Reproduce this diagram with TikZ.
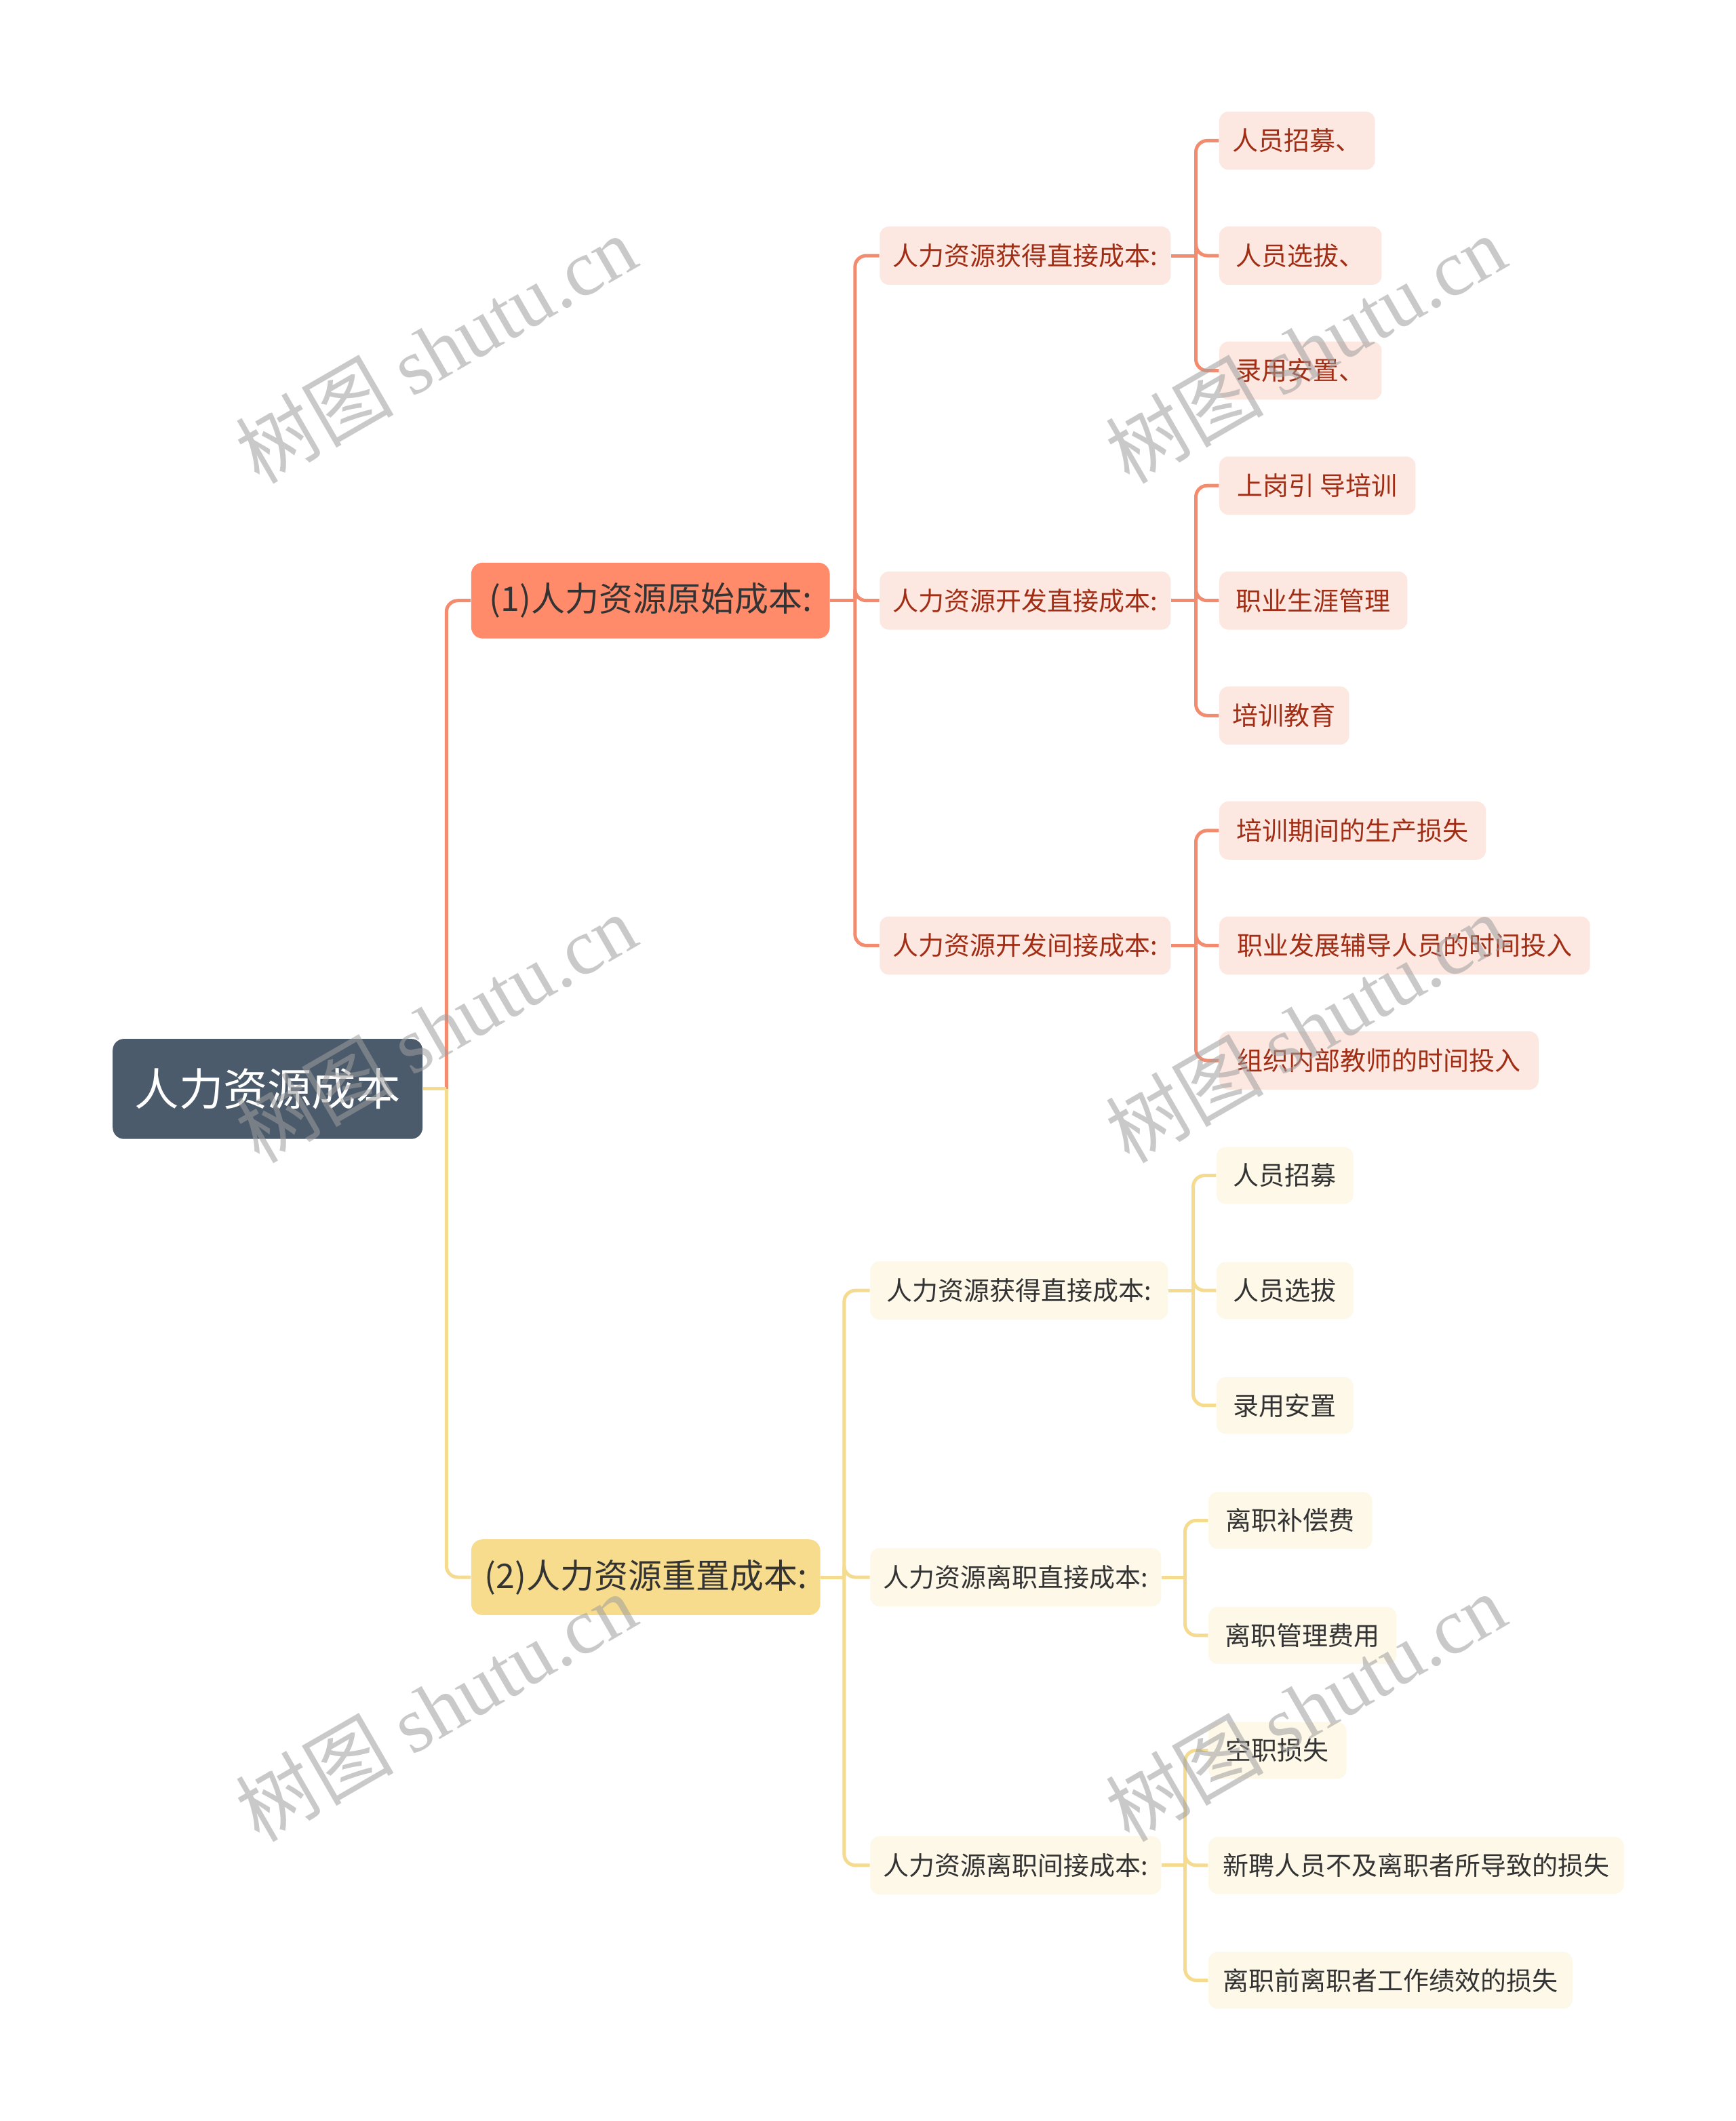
\documentclass[tikz,border=0pt]{standalone}
\usepackage{fontspec}
\newfontfamily\cjk{Noto Sans CJK SC}
\newfontfamily\wmlat{Liberation Serif}
\definecolor{rootc}{HTML}{4B5B6B}
\definecolor{orA}{HTML}{FF8B6A}
\definecolor{orB}{HTML}{FDE7E1}
\definecolor{orT}{HTML}{A02D14}
\definecolor{orL}{HTML}{F38B6E}
\definecolor{yeA}{HTML}{F7DC8D}
\definecolor{yeB}{HTML}{FEF8E8}
\definecolor{yeL}{HTML}{F4DB8F}
\definecolor{txt}{HTML}{333333}
\def\mypx{0.5986pt}
\tikzset{
  base/.style={anchor=west, rounded corners=4pt, inner xsep=0pt, inner ysep=0pt,
    font=\cjk\fontsize{11.4}{12}\selectfont},
  rootbox/.style={base, fill=rootc, text=white, rounded corners=5pt,
    minimum height=74*\mypx, font=\cjk\fontsize{19.6}{20}\selectfont},
  onebox/.style={base, fill=orA, text=txt, rounded corners=5pt,
    minimum height=56*\mypx, font=\cjk\fontsize{15}{16}\selectfont},
  twobox/.style={base, fill=yeA, text=txt, rounded corners=5pt,
    minimum height=56*\mypx, font=\cjk\fontsize{15}{16}\selectfont},
  obox/.style={base, fill=orB, text=orT, minimum height=43*\mypx},
  ybox/.style={base, fill=yeB, text=txt, minimum height=42*\mypx},
  oline/.style={draw=orL, line width=1.5pt},
  yline/.style={draw=yeL, line width=1.5pt},
  rc/.style={rounded corners=5pt},
  wm/.style={text=black!38, opacity=0.55, font=\cjk\fontsize{35}{35}\selectfont, rotate=30, inner sep=0pt}
}
\begin{document}
\begin{tikzpicture}[x=0.5986pt, y=-0.5986pt]
\useasboundingbox (0,0) rectangle (1283,1568);
\fill[white] (0,0) rectangle (1283,1568);

% root and level 1
\node[rootbox, minimum width=229*\mypx] (root) at (83,805) {人力资源成本};
\node[onebox, minimum width=265*\mypx] (A) at (348,444) {(1)人力资源原始成本:};
\node[twobox, minimum width=258*\mypx] (B) at (348,1166) {(2)人力资源重置成本:};

% level 2 orange
\node[obox, minimum width=215*\mypx] (a1) at (650,189) {人力资源获得直接成本:};
\node[obox, minimum width=215*\mypx] (a2) at (650,444) {人力资源开发直接成本:};
\node[obox, minimum width=215*\mypx] (a3) at (650,699) {人力资源开发间接成本:};

% level 3 orange
\node[obox, minimum width=115*\mypx] (a11) at (901,104) {人员招募、};
\node[obox, minimum width=120*\mypx] (a12) at (901,189) {人员选拔、};
\node[obox, minimum width=120*\mypx] (a13) at (901,274) {录用安置、};
\node[obox, minimum width=145*\mypx] (a21) at (901,359) {上岗引 导培训};
\node[obox, minimum width=139*\mypx] (a22) at (901,444) {职业生涯管理};
\node[obox, minimum width=96*\mypx] (a23) at (901,529) {培训教育};
\node[obox, minimum width=197*\mypx] (a31) at (901,614) {培训期间的生产损失};
\node[obox, minimum width=274*\mypx] (a32) at (901,699) {职业发展辅导人员的时间投入};
\node[obox, minimum width=236*\mypx] (a33) at (901,784) {组织内部教师的时间投入};

% level 2 yellow
\node[ybox, minimum width=220*\mypx, minimum height=43*\mypx] (b1) at (643,954) {人力资源获得直接成本:};
\node[ybox, minimum width=215*\mypx, minimum height=43*\mypx] (b2) at (643,1166) {人力资源离职直接成本:};
\node[ybox, minimum width=215*\mypx, minimum height=43*\mypx] (b3) at (643,1379) {人力资源离职间接成本:};

% level 3 yellow
\node[ybox, minimum width=101*\mypx] (b11) at (899,869) {人员招募};
\node[ybox, minimum width=101*\mypx] (b12) at (899,954) {人员选拔};
\node[ybox, minimum width=101*\mypx] (b13) at (899,1039) {录用安置};
\node[ybox, minimum width=121*\mypx] (b21) at (893,1124) {离职补偿费};
\node[ybox, minimum width=139*\mypx] (b22) at (893,1209) {离职管理费用};
\node[ybox, minimum width=102*\mypx] (b31) at (893,1294) {空职损失};
\node[ybox, minimum width=307*\mypx] (b32) at (893,1379) {新聘人员不及离职者所导致的损失};
\node[ybox, minimum width=269*\mypx] (b33) at (893,1464) {离职前离职者工作绩效的损失};

% trunk points
\coordinate (tr) at (330,805);
\coordinate (ta) at (632,444);
\coordinate (tb) at (624,1166);
\coordinate (ta1) at (884,189);
\coordinate (ta2) at (884,444);
\coordinate (ta3) at (884,699);
\coordinate (tb1) at (882,954);
\coordinate (tb2) at (876,1166);
\coordinate (tb3) at (876,1379);

% connectors orange
\draw[oline, rc] (tr) |- (A.west);
\draw[oline] (A.east) -- (ta);
\foreach \c in {a1,a2,a3} \draw[oline, rc] (ta) |- (\c.west);
\draw[oline] (a1.east) -- (ta1);
\foreach \c in {a11,a12,a13} \draw[oline, rc] (ta1) |- (\c.west);
\draw[oline] (a2.east) -- (ta2);
\foreach \c in {a21,a22,a23} \draw[oline, rc] (ta2) |- (\c.west);
\draw[oline] (a3.east) -- (ta3);
\foreach \c in {a31,a32,a33} \draw[oline, rc] (ta3) |- (\c.west);

% connectors yellow
\draw[yline] (root.east) -- (tr);
\draw[yline, rc] (tr) |- (B.west);
\draw[yline] (B.east) -- (tb);
\foreach \c in {b1,b2,b3} \draw[yline, rc] (tb) |- (\c.west);
\draw[yline] (b1.east) -- (tb1);
\foreach \c in {b11,b12,b13} \draw[yline, rc] (tb1) |- (\c.west);
\draw[yline] (b2.east) -- (tb2);
\foreach \c in {b21,b22} \draw[yline, rc] (tb2) |- (\c.west);
\draw[yline] (b3.east) -- (tb3);
\foreach \c in {b31,b32,b33} \draw[yline, rc] (tb3) |- (\c.west);

% watermarks
\foreach \wx/\wy [count=\i] in {322/258, 965/258, 322/760, 965/760, 322/1262, 965/1262}
  \node[wm] (wm\i) at (\wx,\wy) {树图 {\wmlat shutu.cn}};
\end{tikzpicture}
\end{document}
